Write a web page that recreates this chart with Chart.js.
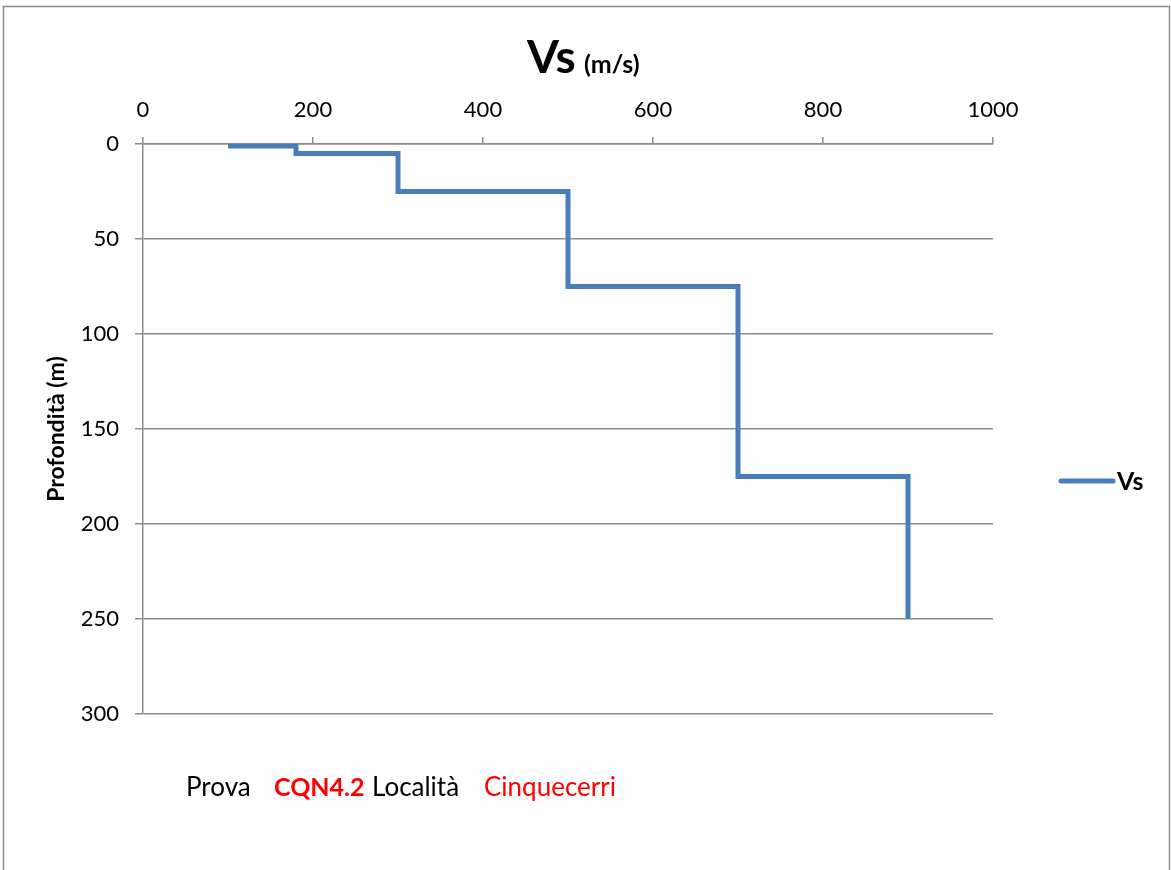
<!DOCTYPE html>
<html>
<head>
<meta charset="utf-8">
<script src="https://cdn.jsdelivr.net/npm/chart.js@4/dist/chart.umd.min.js"></script>
<style>
  html, body { margin: 0; padding: 0; background: #fff; }
  #wrap { width: 1171px; height: 870px; position: relative; }
</style>
</head>
<body>
<div id="wrap"><canvas id="vsChart" width="1171" height="870"></canvas></div>
<script>
// step profile Vs vs depth
const vsValues    = [100, 180, 180, 300, 300, 500, 500, 700, 700, 900, 900];
const depthValues = [1, 1, 5, 5, 25, 25, 75, 75, 175, 175, 250];
const xTicks = [0, 200, 400, 600, 800, 1000];
const yTicks = [0, 50, 100, 150, 200, 250, 300];

const seriesName = "Vs";
const yTitle = "Profondità (m)";
const FONT = "Lato, 'Open Sans', sans-serif";
const lineColor = "#4a7ebb";
const gridColor = "#8c8c8c";

let points = vsValues.map((v, i) => ({x: v, y: depthValues[i]}));

// extra drawing: frame, title, y title, legend, footer text
const decorPlugin = {
  id: "decor",
  beforeDraw(chart) {
    let c = chart.ctx;
    c.save();
    c.fillStyle = "#fff";
    c.fillRect(0, 0, chart.width, chart.height);
    c.strokeStyle = "#8a8a8a";
    c.lineWidth = 1.5;
    c.strokeRect(3.5, 6.5, 1166, 900);
    c.restore();
  },
  afterDraw(chart) {
    let c = chart.ctx;
    c.save();
    // title
    c.fillStyle = "#000";
    c.textBaseline = "alphabetic";
    c.font = "bold 46px " + FONT;
    c.fillText("Vs", 527, 73);
    c.font = "bold 25px " + FONT;
    c.fillText("(m/s)", 584, 73);

    // y axis title
    c.translate(57, 429);
    c.rotate(-Math.PI / 2);
    c.font = "bold 23px " + FONT;
    c.textAlign = "center";
    c.textBaseline = "middle";
    c.fillText(yTitle, 0, 0);
    c.setTransform(1, 0, 0, 1, 0, 0);

    // legend
    c.strokeStyle = lineColor;
    c.lineWidth = 5;
    c.lineCap = "round";
    c.beginPath();
    c.moveTo(1061, 481);
    c.lineTo(1113, 481);
    c.stroke();
    c.font = "bold 25px " + FONT;
    c.textAlign = "left";
    c.textBaseline = "middle";
    c.fillStyle = "#000";
    c.fillText(seriesName, 1117, 482);

    // footer
    let y = 788;
    c.font = "26px " + FONT;
    c.fillStyle = "#000";
    c.fillText("Prova", 186, y);
    c.font = "bold 25px " + FONT;
    c.fillStyle = "#ff0000";
    c.fillText("CQN4.2", 274, y);
    c.font = "26px " + FONT;
    c.fillStyle = "#000";
    c.fillText("Località", 372, y);
    c.fillStyle = "#ff0000";
    c.fillText("Cinquecerri", 484, y);
    c.restore();
  }
};

new Chart(document.getElementById("vsChart"), {
  type: "scatter",
  data: {
    datasets: [{
      label: seriesName,
      data: points,
      showLine: true,
      borderColor: lineColor,
      borderWidth: 5,
      pointRadius: 0,
      fill: false,
      tension: 0
    }]
  },
  options: {
    responsive: false,
    animation: false,
    layout: { padding: {left: 0, top: 0, right: 178, bottom: 156} },
    plugins: {
      legend: { display: false },
      tooltip: { enabled: false }
    },
    scales: {
      x: {
        type: "linear",
        position: "top",
        min: 0, max: 1000,
        afterBuildTicks: (s) => { s.ticks = xTicks.map(v => ({value: v})); },
        afterFit: (s) => { s.height = 144; },
        grid: { drawOnChartArea: false, color: gridColor, tickLength: 7, lineWidth: 1.5 },
        border: { color: gridColor, width: 1.5 },
        ticks: { color: "#000", font: {family: FONT, size: 22}, padding: 14, maxRotation: 0,
                 callback: (v) => String(v) }
      },
      y: {
        type: "linear",
        reverse: true,
        min: 0, max: 300,
        afterBuildTicks: (s) => { s.ticks = yTicks.map(v => ({value: v})); },
        afterFit: (s) => { s.width = 143; },
        grid: { color: gridColor, tickLength: 8, lineWidth: 1.5 },
        border: { color: gridColor, width: 1.5 },
        ticks: { color: "#000", font: {family: FONT, size: 22}, padding: 16,
                 callback: (v) => String(v) }
      }
    }
  },
  plugins: [decorPlugin]
});
</script>
</body>
</html>
